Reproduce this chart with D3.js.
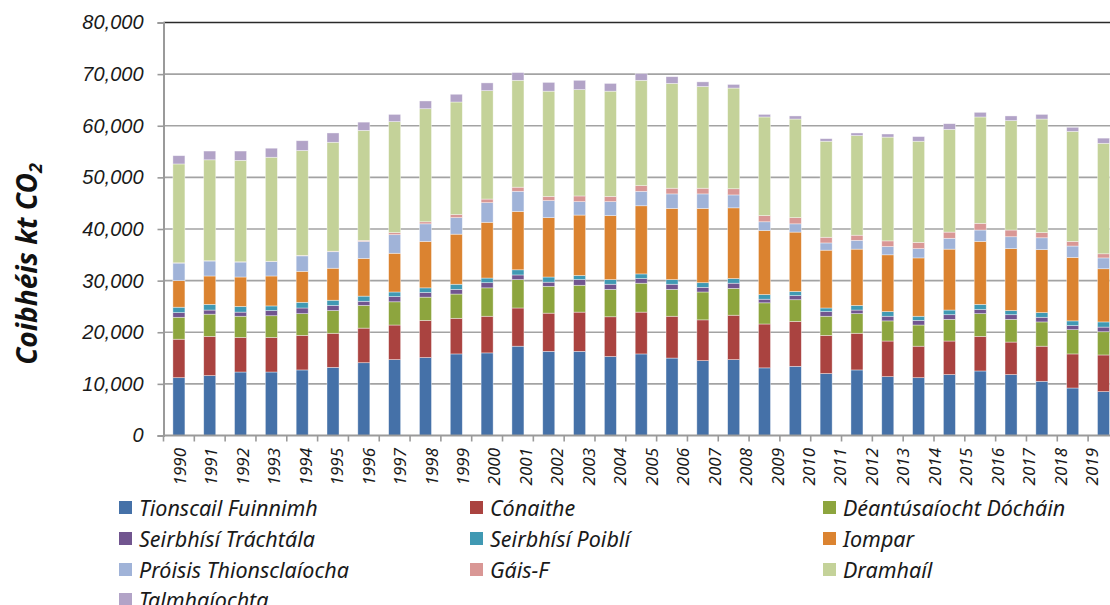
<!DOCTYPE html>
<html>
<head>
<meta charset="utf-8">
<script src="https://cdnjs.cloudflare.com/ajax/libs/d3/7.8.5/d3.min.js"></script>
<style>
  body { margin: 0; background: #fff; }
  svg { display: block; font-family: "Noto Sans", sans-serif; }
</style>
</head>
<body>
<div id="chart"></div>
<script>
// categories (31 bars drawn, 30 year labels shown)
var years = ["1990","1991","1992","1993","1994","1995","1996","1997","1998","1999",
             "2000","2001","2002","2003","2004","2005","2006","2007","2008","2009",
             "2010","2011","2012","2013","2014","2015","2016","2017","2018","2019","2020"];
var yearLabels = ["1990","1991","1992","1993","1994","1995","1996","1997","1998","1999",
                  "2000","2001","2002","2003","2004","2005","2006","2007","2008","2009",
                  "2010","2011","2012","2013","2014","2015","2016","2017","2018","2019"];
var yTicks = [0, 10000, 20000, 30000, 40000, 50000, 60000, 70000, 80000];

// series values, kt CO2 eq
var tionscailFuinnimh = [11200,11600,12300,12300,12700,13200,14100,14700,15100,15800,16000,17300,16300,16300,15300,15800,15000,14500,14700,13100,13400,12000,12700,11400,11200,11800,12500,11800,10500,9200,8500];
var conaithe = [7450,7600,6700,6700,6700,6600,6700,6700,7200,6900,7100,7400,7400,7600,7700,8100,8100,7900,8600,8500,8700,7400,7100,6900,6100,6500,6700,6300,6800,6600,7100];
var deantusaiocht = [4250,4300,4100,4200,4200,4400,4400,4500,4500,4700,5500,5500,5200,5200,5300,5600,5200,5400,5200,4100,4200,3700,3800,3900,4100,4200,4400,4400,4700,4700,4500];
var trachtala = [900,800,800,1000,1100,1000,800,1000,900,900,1000,900,800,1100,1000,900,1000,900,1000,700,800,900,700,900,900,900,800,900,900,800,900];
var poibli = [1050,1100,1100,900,1100,1000,1000,900,900,1000,900,1000,1000,800,900,900,900,900,900,900,800,700,900,900,800,900,1000,800,900,900,1000];
var iompar = [5150,5500,5700,5800,6000,6200,7300,7500,9000,9700,10800,11300,11500,11700,12400,13200,13800,14400,13700,12400,11500,11200,10900,11000,11300,11800,12200,12000,12200,12300,10300];
var proisis = [3400,2900,2900,2800,3000,3200,3300,3600,3400,3200,3800,3900,3300,2600,2700,2800,2800,2800,2500,1700,1600,1400,1700,1600,1800,2100,2200,2300,2300,2200,2100];
var gaisF = [50,50,50,50,100,100,200,400,400,600,700,800,800,1100,1000,1100,1100,1100,1200,1200,1200,1100,1000,1100,1200,1200,1300,1300,1000,900,800];
var dramhail = [19150,19550,19650,20150,20300,21100,21300,21500,21900,21800,21000,20700,20400,20600,20400,20400,20300,19700,19500,19100,19100,18600,19300,20100,19600,19900,20600,21200,22000,21300,21400];
var talmhaiochta = [1600,1700,1800,1750,1900,1800,1600,1400,1500,1500,1500,1500,1700,1800,1500,1300,1300,900,700,500,600,500,500,600,900,1100,900,900,900,800,1000];

var seriesNames = ["Tionscail Fuinnimh","Cónaithe","Déantúsaíocht Dócháin","Seirbhísí Tráchtála",
                   "Seirbhísí Poiblí","Iompar","Próisis Thionsclaíocha","Gáis-F","Dramhaíl","Talmhaíochta"];
var seriesColors = ["#4571a8","#aa4340","#8da53e","#71558f","#4099b3","#db8330","#a0b3d8","#d99795","#c4d299","#b2a3c7"];
var seriesValues = [tionscailFuinnimh, conaithe, deantusaiocht, trachtala, poibli, iompar, proisis, gaisF, dramhail, talmhaiochta];

var width = 1110, height = 605;
var plot = { left: 163.5, top: 22.5, bottom: 435.5, step: 30.82 };

var table = years.map(function(yr, i) {
    var row = { year: yr };
    seriesNames.forEach(function(name, s) { row[name] = seriesValues[s][i]; });
    return row;
});

var svg = d3.select("#chart").append("svg")
    .attr("width", width)
    .attr("height", height);

var x = d3.scaleBand()
    .domain(years)
    .range([plot.left, plot.left + years.length * plot.step])
    .paddingInner(0.61)
    .paddingOuter(0.305);

var xLabel = d3.scalePoint()
    .domain(yearLabels)
    .range([180, 1092]);

var y = d3.scaleLinear()
    .domain([0, 80000])
    .range([plot.bottom, plot.top]);

// gridlines
svg.append("g")
    .selectAll("line")
    .data(yTicks.filter(function(d) { return d > 0 && d < 80000; }))
    .enter().append("line")
      .attr("x1", plot.left)
      .attr("x2", x.range()[1])
      .attr("y1", function(d) { return y(d); })
      .attr("y2", function(d) { return y(d); })
      .attr("stroke", "#a3a3a3")
      .attr("stroke-width", 1.6);

// top border
svg.append("line")
    .attr("x1", plot.left).attr("x2", x.range()[1])
    .attr("y1", y(80000)).attr("y2", y(80000))
    .attr("stroke", "#2a2a2a")
    .attr("stroke-width", 1.4);

// stacked bars
var stack = d3.stack().keys(seriesNames);
var layers = stack(table);

svg.append("g")
    .selectAll("g")
    .data(layers)
    .enter().append("g")
      .attr("fill", function(d, i) { return seriesColors[i]; })
    .selectAll("rect")
    .data(function(d) { return d; })
    .enter().append("rect")
      .attr("x", function(d) { return x(d.data.year); })
      .attr("width", x.bandwidth())
      .attr("y", function(d) { return y(d[1]); })
      .attr("height", function(d) { return y(d[0]) - y(d[1]); })
      .attr("stroke", "#ffffff")
      .attr("stroke-opacity", 0.55)
      .attr("stroke-width", 0.7);

// y axis
var yAxis = svg.append("g")
    .attr("transform", "translate(" + plot.left + ",0)")
    .call(d3.axisLeft(y).tickValues(yTicks).tickFormat(d3.format(",")).tickSize(6).tickPadding(14));
yAxis.select(".domain").attr("stroke", "#9a9a9a").attr("stroke-width", 2);
yAxis.selectAll(".tick line").attr("stroke", "#9a9a9a").attr("stroke-width", 1.6);
yAxis.selectAll(".tick text")
    .attr("fill", "#1a1a1a")
    .style("font-size", "20px")
    .style("font-style", "italic");

// x axis line and ticks at band edges
var edges = years.map(function(yr) { return x(yr) - (x.step() - x.bandwidth()) / 2; });
edges.push(x.range()[1]);

svg.append("line")
    .attr("x1", plot.left).attr("x2", x.range()[1])
    .attr("y1", plot.bottom).attr("y2", plot.bottom)
    .attr("stroke", "#9a9a9a")
    .attr("stroke-width", 2);

svg.append("g")
    .selectAll("line")
    .data(edges)
    .enter().append("line")
      .attr("x1", function(d) { return d; })
      .attr("x2", function(d) { return d; })
      .attr("y1", plot.bottom)
      .attr("y2", plot.bottom + 6)
      .attr("stroke", "#9a9a9a")
      .attr("stroke-width", 1.6);

svg.append("g")
    .selectAll("text")
    .data(yearLabels)
    .enter().append("text")
      .attr("transform", function(d) { return "translate(" + (xLabel(d) + 6) + "," + 448 + ") rotate(-90)"; })
      .attr("text-anchor", "end")
      .attr("fill", "#1a1a1a")
      .style("font-size", "17px")
      .style("font-style", "italic")
      .text(function(d) { return d; });

// y title
var title = svg.append("text")
    .attr("transform", "translate(37,264) rotate(-90)")
    .attr("text-anchor", "middle")
    .attr("fill", "#111")
    .style("font-size", "28px")
    .style("font-weight", "bold")
    .style("font-style", "italic");
title.append("tspan").text("Coibhéis kt CO");
title.append("tspan").attr("dy", 5).style("font-size", "18px").text("2");

// legend
var legendCols = [119, 470, 823];
var legendRows = [508, 539, 570, 600];

var legend = svg.append("g")
    .selectAll("g")
    .data(seriesNames)
    .enter().append("g")
      .attr("transform", function(d, i) {
          return "translate(" + legendCols[i % 3] + "," + legendRows[Math.floor(i / 3)] + ")";
      });

legend.append("rect")
    .attr("x", 0).attr("y", -7)
    .attr("width", 13).attr("height", 13)
    .attr("fill", function(d, i) { return seriesColors[i]; });

legend.append("text")
    .attr("x", 20)
    .attr("y", 0)
    .attr("dy", "0.35em")
    .attr("fill", "#1a1a1a")
    .style("font-size", "21.5px")
    .style("font-style", "italic")
    .text(function(d) { return d; });
</script>
</body>
</html>
